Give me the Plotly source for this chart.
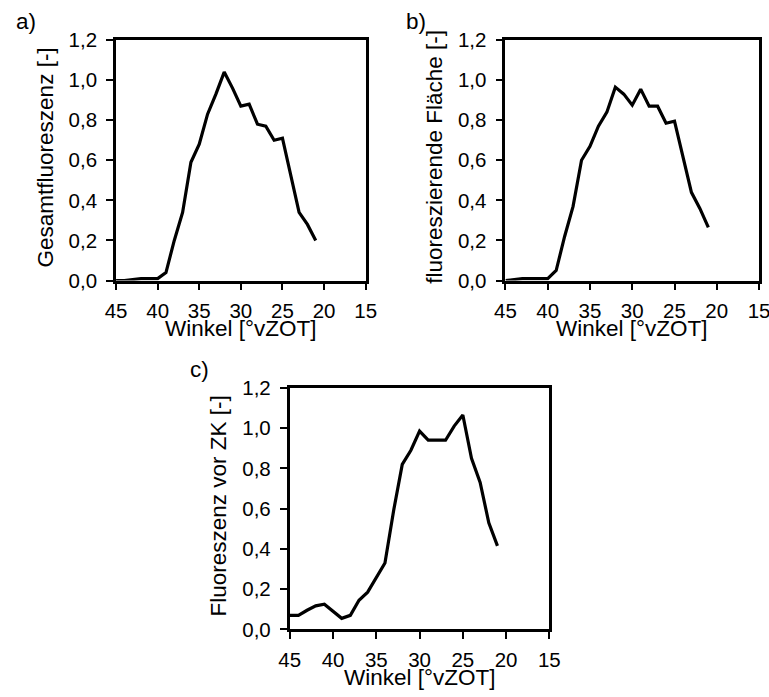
import plotly.graph_objects as go

angles = [45, 44, 43, 42, 41, 40, 39, 38, 37, 36, 35, 34, 33, 32, 31, 30, 29, 28, 27, 26, 25, 24, 23, 22, 21]
gesamt = [0.0, 0.0, 0.005, 0.01, 0.01, 0.01, 0.04, 0.20, 0.34, 0.59, 0.68, 0.83, 0.93, 1.04, 0.96, 0.87, 0.88, 0.78, 0.77, 0.70, 0.71, 0.53, 0.34, 0.28, 0.20]
flaeche = [0.0, 0.005, 0.01, 0.01, 0.01, 0.01, 0.05, 0.22, 0.37, 0.60, 0.67, 0.77, 0.84, 0.965, 0.93, 0.875, 0.955, 0.87, 0.87, 0.785, 0.795, 0.62, 0.44, 0.36, 0.265]
vor_zk = [0.07, 0.07, 0.095, 0.117, 0.125, 0.09, 0.055, 0.07, 0.145, 0.185, 0.26, 0.33, 0.59, 0.82, 0.89, 0.985, 0.94, 0.94, 0.94, 1.01, 1.065, 0.85, 0.73, 0.53, 0.415]

x_ticks = [45, 40, 35, 30, 25, 20, 15]
y_ticks = [0.0, 0.2, 0.4, 0.6, 0.8, 1.0, 1.2]

x_title = "Winkel [°vZOT]"
y_titles = ["Gesamtfluoreszenz [-]", "fluoreszierende Fläche [-]", "Fluoreszenz vor ZK [-]"]
panel_labels = ["a)", "b)", "c)"]

# observed mapping from figure px to final picture px: pic = S*fig + O
S, O = 0.973, 7.8
W, H = 772, 698
FONT = "Liberation Sans, Arial, sans-serif"
TICK_SIZE = 20.5
TITLE_SIZE = 22.5


def F(p):
    return (p - O) / S


def px(x):
    return F(x) / W


def py(y):
    return 1 - F(y) / H


# plot area boxes in target picture pixels: (left, right, top, bottom)
boxes = [(113, 363, 36, 278), (503, 757, 36, 278), (287, 547, 386, 629)]

fig = go.Figure()
series = [gesamt, flaeche, vor_zk]
annotations = []
for i, (vals, box) in enumerate(zip(series, boxes)):
    l, r, t, b = box
    xa = "x" if i == 0 else f"x{i+1}"
    ya = "y" if i == 0 else f"y{i+1}"
    fig.add_trace(go.Scatter(x=angles, y=vals, mode="lines",
                             line=dict(color="black", width=3.2),
                             xaxis=xa, yaxis=ya, showlegend=False,
                             hoverinfo="skip"))
    xkey = "xaxis" if i == 0 else f"xaxis{i+1}"
    ykey = "yaxis" if i == 0 else f"yaxis{i+1}"
    fig.update_layout({
        xkey: dict(domain=[px(l), px(r)], anchor=ya, range=[45, 15],
                   tickmode="array", tickvals=x_ticks,
                   ticktext=[str(v) for v in x_ticks],
                   ticks="outside", ticklen=7, tickwidth=1.8, tickcolor="black",
                   ticklabelstandoff=3,
                   showline=True, linecolor="black", linewidth=2.8, mirror=True,
                   showgrid=False, zeroline=False,
                   tickfont=dict(family=FONT, size=TICK_SIZE, color="black")),
        ykey: dict(domain=[py(b), py(t)], anchor=xa, range=[0, 1.2],
                   tickmode="array", tickvals=y_ticks,
                   ticktext=[f"{v:.1f}".replace(".", ",") for v in y_ticks],
                   ticks="outside", ticklen=7, tickwidth=1.8, tickcolor="black",
                   ticklabelstandoff=5,
                   showline=True, linecolor="black", linewidth=2.8, mirror=True,
                   showgrid=False, zeroline=False,
                   tickfont=dict(family=FONT, size=TICK_SIZE, color="black")),
    })
    cx = (l + r) / 2
    cy = (t + b) / 2
    annotations.append(dict(text=x_title, x=px(cx), y=py(b + 48),
                            xref="paper", yref="paper", showarrow=False,
                            xanchor="center", yanchor="middle",
                            font=dict(family=FONT, size=TITLE_SIZE, color="black")))
    annotations.append(dict(text=y_titles[i], x=px(l - 71), y=py(cy - 3),
                            xref="paper", yref="paper", showarrow=False,
                            textangle=-90, xanchor="center", yanchor="middle",
                            font=dict(family=FONT, size=TITLE_SIZE, color="black")))
    annotations.append(dict(text=panel_labels[i], x=px(l - 90), y=py(t - 19),
                            xref="paper", yref="paper", showarrow=False,
                            xanchor="center", yanchor="middle",
                            font=dict(family=FONT, size=TITLE_SIZE, color="black")))

fig.update_layout(width=W, height=H, margin=dict(l=0, r=0, t=0, b=0),
                  paper_bgcolor="white", plot_bgcolor="white",
                  annotations=annotations, showlegend=False)

fig.write_html("out.html")
